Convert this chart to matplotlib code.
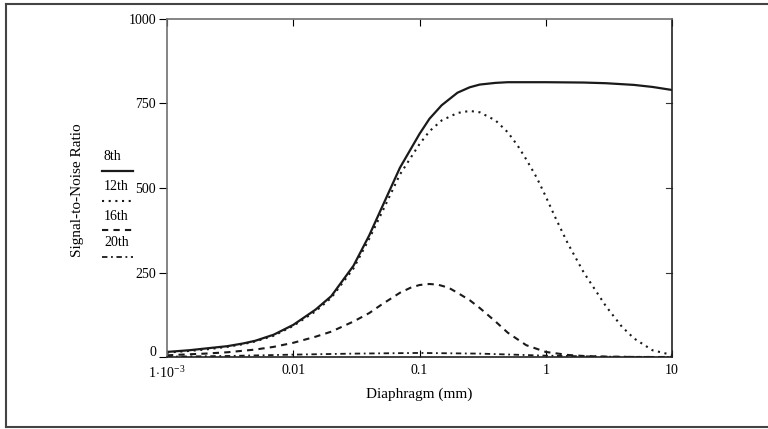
import numpy as np
import matplotlib
matplotlib.use('Agg')
import matplotlib.pyplot as plt
import matplotlib.transforms as mtransforms
from matplotlib.lines import Line2D

plt.rcParams['font.family'] = ['Liberation Serif', 'DejaVu Serif']
plt.rcParams['mathtext.fontset'] = 'custom'
plt.rcParams['mathtext.rm'] = 'Liberation Serif'

# diaphragm (mm)
d8 = [0.001, 0.0015, 0.002, 0.003, 0.004, 0.005, 0.007, 0.01, 0.015, 0.02,
      0.03, 0.04, 0.05, 0.07, 0.1, 0.12, 0.15, 0.2, 0.25, 0.3, 0.4, 0.5,
      0.7, 1, 2, 3, 5, 7, 10]
snr8 = [15, 20, 25, 32, 40, 48, 66, 95, 140, 180,
        270, 360, 440, 560, 660, 705, 745, 782, 798, 806, 811, 813,
        813, 813, 812, 810, 805, 799, 790]

d12 = [0.001, 0.0015, 0.002, 0.003, 0.004, 0.005, 0.007, 0.01, 0.015, 0.02,
       0.03, 0.04, 0.05, 0.07, 0.1, 0.12, 0.15, 0.2, 0.25, 0.3, 0.4, 0.5,
       0.6, 0.7, 0.85, 1, 1.2, 1.5, 2, 2.5, 3, 4, 5, 7, 10]
snr12 = [13, 18, 22, 30, 38, 46, 63, 92, 135, 175,
         262, 350, 425, 540, 630, 668, 700, 722, 728, 724, 700, 665,
         625, 585, 530, 475, 410, 335, 250, 195, 150, 90, 55, 20, 6]

d16 = [0.001, 0.0015, 0.002, 0.003, 0.005, 0.007, 0.01, 0.015, 0.02, 0.03,
       0.04, 0.05, 0.07, 0.085, 0.1, 0.12, 0.14, 0.17, 0.2, 0.25, 0.3, 0.4,
       0.5, 0.7, 1, 1.5, 2, 3, 5, 10]
snr16 = [5, 8, 10, 14, 22, 30, 42, 60, 75, 105,
         130, 155, 190, 205, 213, 216, 214, 205, 190, 168, 145, 105,
         72, 35, 15, 6, 3, 1, 0, 0]

d20 = [0.001, 0.003, 0.01, 0.03, 0.1, 0.3, 1, 3, 10]
snr20 = [1, 3, 7, 10, 12, 10, 4, 1, 0]

xticks = [0.001, 0.01, 0.1, 1, 10]
xticklabels = [r'$1\!\cdot\!10^{-3}$', '0.01', '0.1', '1', '10']
yticks = [0, 250, 500, 750, 1000]
labels = ['8th', '12th', '16th', '20th']

fig = plt.figure(figsize=(7.68, 4.29), dpi=100)
ax = fig.add_axes([167/768, 1-357/429, 505/768, 338/429])

styles = [dict(linestyle='-', lw=1.6),
          dict(linestyle=(0, (1, 2.2)), lw=1.5),
          dict(linestyle=(0, (3, 2.5)), lw=1.5),
          dict(linestyle=(0, (3, 2, 1, 2)), lw=1.3)]

for (xs, ys), st in zip([(d8, snr8), (d12, snr12), (d16, snr16), (d20, snr20)], styles):
    ax.plot(xs, ys, color='#1a1a1a', **st)

ax.set_xscale('log')
ax.set_xlim(0.001, 10)
ax.set_ylim(0, 1000)
ax.set_xticks(xticks)
ax.set_xticklabels(xticklabels)
ax.xaxis.set_minor_locator(matplotlib.ticker.NullLocator())
ax.set_yticks(yticks)
ax.tick_params(axis='x', direction='in', top=True, length=5, width=0.8,
               labelsize=10, pad=5)
ax.tick_params(axis='y', direction='out', length=6, width=0.8, labelsize=10,
               pad=2)
# lift the "0" label a little, as in the original
zero_lab = ax.get_yticklabels()[0]
zero_lab.set_transform(zero_lab.get_transform() +
                       mtransforms.ScaledTranslation(0, 4/72, fig.dpi_scale_trans))
for spine in ax.spines.values():
    spine.set_color('#707070')
    spine.set_linewidth(1.2)
ax.spines['bottom'].set_color('#222222')
ax.spines['right'].set_color('#222222')

# inward ticks on right side
for yv in yticks[1:-1]:
    ax.plot([10 / 1.11, 10], [yv, yv], color='#333333', lw=0.8, clip_on=False)

ax.set_xlabel('Diaphragm (mm)', fontsize=11, labelpad=5)
fig.text(78/768, 1-190/429, 'Signal-to-Noise Ratio', rotation=90,
         ha='center', va='center', fontsize=11)

# legend: label above line sample
ly = [157, 187, 216, 243]
for lab, st, yy in zip(labels, styles, ly):
    fig.text(104/768, 1-yy/429, lab, ha='left', va='center', fontsize=10)
    fig.add_artist(Line2D([102/768, 133/768], [1-(yy+14)/429, 1-(yy+14)/429],
                          color='#1a1a1a', **st))

# outer frame
fig.add_artist(Line2D([6/768, 6/768], [1-4/429, 1-427/429], color='#444444', lw=1.5))
fig.add_artist(Line2D([6/768, 1], [1-427/429, 1-427/429], color='#444444', lw=1.5))
fig.add_artist(Line2D([6/768, 1], [1-4/429, 1-4/429], color='#444444', lw=1.5))

fig.savefig('out.png', dpi=100)
